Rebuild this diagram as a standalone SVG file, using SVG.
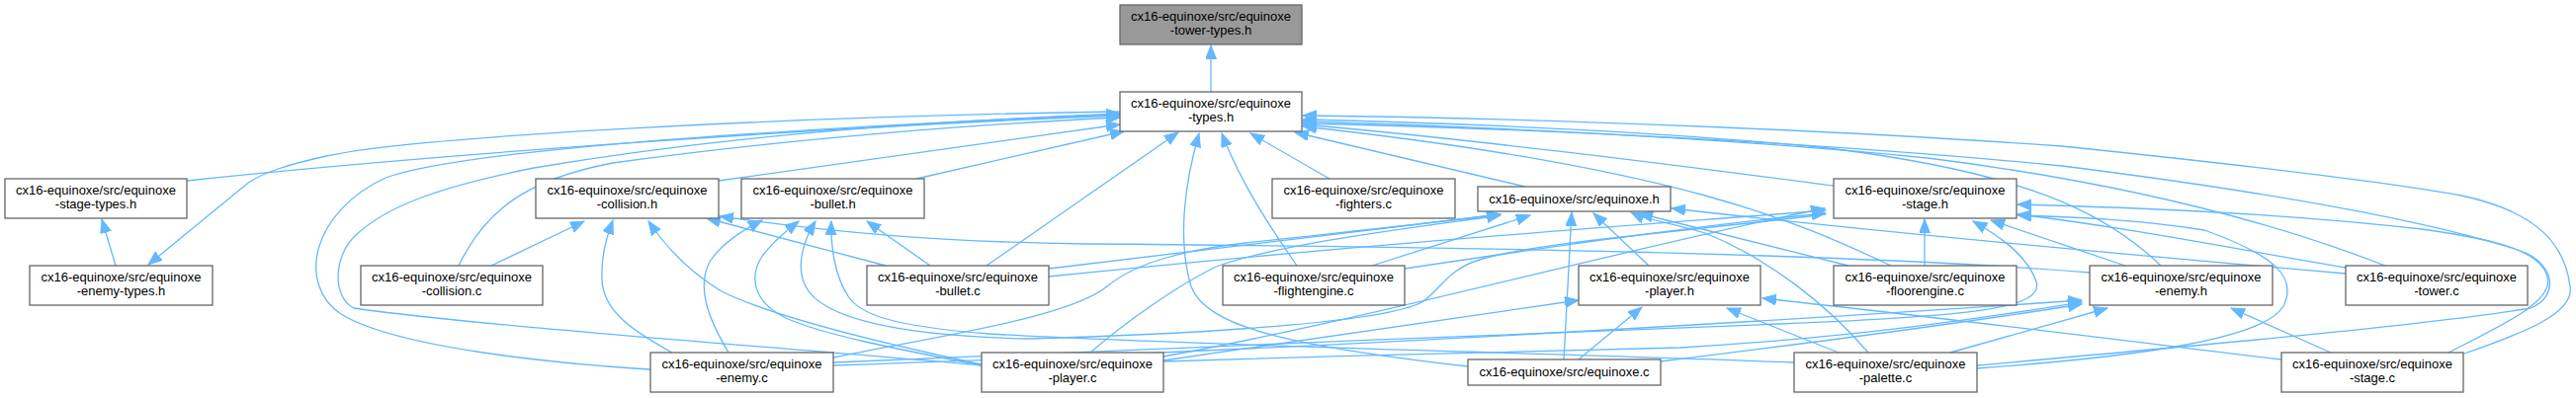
<svg xmlns="http://www.w3.org/2000/svg" width="2606" height="403" viewBox="0 0 2606 403">
<style>
.n rect{fill:#ffffff;stroke:#666666;stroke-width:1.3}
.n.g rect{fill:#999999}
.n text{font-family:"Liberation Sans",Arial,sans-serif;font-size:13px;fill:#000000;text-anchor:middle}
.e path{fill:none;stroke:#63b8ff;stroke-width:1.3;marker-end:url(#ah)}
</style>
<defs>
<marker id="ah" markerUnits="userSpaceOnUse" markerWidth="15" markerHeight="12" refX="14" refY="5.5" orient="auto">
<path d="M0,0 L14,5.5 L0,11 z" fill="#63b8ff" stroke="#63b8ff" stroke-width="1"/>
</marker>
</defs>
<rect x="0" y="0" width="2606" height="403" fill="#ffffff"/>
<g class="e" id="connectors">
<path d="M1225,93 L1225,46"/>
<path d="M189,183 C450,155 850,128 1133,117"/>
<path d="M1133,113 C800,118 420,138 330,158 C290,167 265,175 250,186 L150,268"/>
<path d="M117,269 L103,222"/>
<path d="M727,183 C850,165 990,145 1133,126"/>
<path d="M927,181 L1137,133"/>
<path d="M464,269 C490,215 530,182 620,165 C800,140 1000,125 1133,119"/>
<path d="M658,374 C560,368 400,352 345,318 C300,288 315,215 390,180 C460,155 700,135 1133,115"/>
<path d="M993,370 C800,352 500,332 358,312 C335,300 338,258 360,238 C390,210 440,190 540,170 C750,135 950,122 1133,116"/>
<path d="M998,269 L1192,134"/>
<path d="M1485,371 C1300,350 1220,330 1205,290 C1190,240 1200,180 1213,135"/>
<path d="M1312,269 C1285,230 1255,185 1236,135"/>
<path d="M1345,181 L1265,135"/>
<path d="M1543,189 L1310,134"/>
<path d="M1855,188 C1700,168 1500,142 1318,126"/>
<path d="M1913,269 C1820,225 1700,170 1318,128"/>
<path d="M2186,269 C2130,215 2050,175 1850,150 C1700,135 1500,125 1318,121"/>
<path d="M2413,269 C2300,225 2150,185 1950,160 C1750,140 1500,128 1318,123"/>
<path d="M2493,358 C2550,338 2605,318 2600,290 C2595,250 2570,215 2490,198 C2400,182 2250,165 2086,148 C1900,135 1600,120 1318,117"/>
<path d="M2000,370 C2200,352 2450,330 2560,312 C2590,300 2585,265 2547,253 C2450,222 2300,195 2086,168 C1850,145 1550,130 1318,125"/>
<path d="M497,269 L591,224"/>
<path d="M680,357 C640,335 610,315 609,283 C608,260 613,242 620,223"/>
<path d="M993,369 C880,345 780,320 730,295 C700,277 675,252 656,224"/>
<path d="M896,269 L715,221"/>
<path d="M2114,276 C1900,258 1500,250 1100,247 C950,245 850,236 728,219"/>
<path d="M941,269 L877,224"/>
<path d="M737,357 C715,320 705,290 718,265 C730,246 752,233 771,223"/>
<path d="M993,370 C900,352 830,338 795,322 C760,305 758,278 772,258 C782,245 795,234 808,224"/>
<path d="M1847,217 C1700,235 1560,245 1500,262 C1465,272 1460,290 1440,305 C1400,330 1150,340 1040,343 C900,340 830,320 815,290 C805,270 812,245 825,224"/>
<path d="M1815,367 C1600,358 1200,350 1000,338 C900,330 870,318 858,300 C845,280 840,250 841,224"/>
<path d="M1061,272 L1518,217"/>
<path d="M1061,280 C1400,245 1700,225 1847,213"/>
<path d="M1388,269 L1548,218"/>
<path d="M1421,272 C1600,245 1750,225 1847,216"/>
<path d="M843,362 C950,340 1080,322 1120,290 C1150,265 1200,253 1260,246 C1350,236 1450,226 1518,217"/>
<path d="M1103,357 C1140,325 1190,290 1230,270 C1300,245 1450,228 1518,218"/>
<path d="M1582,364 L1590,215"/>
<path d="M1668,269 L1612,216"/>
<path d="M1890,357 C1850,310 1790,262 1725,236 C1690,226 1665,222 1650,215"/>
<path d="M1870,269 L1658,216"/>
<path d="M2373,277 C2200,262 1900,235 1691,211"/>
<path d="M1947,269 L1947,222"/>
<path d="M2150,269 L2014,223"/>
<path d="M2373,271 C2250,250 2150,230 2041,217"/>
<path d="M2477,357 C2530,330 2585,305 2577,280 C2570,255 2530,243 2450,232 C2300,215 2150,210 2041,207"/>
<path d="M2000,373 C2150,362 2290,345 2310,310 C2325,280 2300,258 2230,233 C2160,222 2100,220 2041,218"/>
<path d="M843,367 C1100,355 1500,340 1800,328 C2000,320 2068,312 2060,285 C2052,262 2030,243 1996,224"/>
<path d="M1177,361 C1400,320 1650,250 1846,211"/>
<path d="M1177,365 L1597,304"/>
<path d="M1177,366 C1350,360 1550,356 1700,352 C1900,340 2030,318 2106,306"/>
<path d="M843,370 C1300,355 1800,325 2106,304"/>
<path d="M1680,366 C1850,345 2000,325 2106,308"/>
<path d="M1597,364 L1661,311"/>
<path d="M1860,357 L1747,312"/>
<path d="M1973,357 L2132,312"/>
<path d="M2308,364 C2150,345 1950,320 1783,302"/>
<path d="M2358,357 L2257,312"/>
</g>
<g class="n g" id="tower-types-h"><rect x="1133" y="5" width="184" height="40"/><text x="1225" y="21">cx16-equinoxe/src/equinoxe</text><text x="1225" y="35">-tower-types.h</text></g>
<g class="n" id="types-h"><rect x="1133" y="93" width="184" height="40"/><text x="1225" y="109">cx16-equinoxe/src/equinoxe</text><text x="1225" y="123">-types.h</text></g>
<g class="n" id="stage-types-h"><rect x="5" y="181" width="184" height="40"/><text x="97" y="197">cx16-equinoxe/src/equinoxe</text><text x="97" y="211">-stage-types.h</text></g>
<g class="n" id="enemy-types-h"><rect x="30" y="269" width="185" height="40"/><text x="122.5" y="285">cx16-equinoxe/src/equinoxe</text><text x="122.5" y="299">-enemy-types.h</text></g>
<g class="n" id="collision-h"><rect x="542" y="181" width="185" height="40"/><text x="634.5" y="197">cx16-equinoxe/src/equinoxe</text><text x="634.5" y="211">-collision.h</text></g>
<g class="n" id="bullet-h"><rect x="750" y="181" width="185" height="40"/><text x="842.5" y="197">cx16-equinoxe/src/equinoxe</text><text x="842.5" y="211">-bullet.h</text></g>
<g class="n" id="fighters-c"><rect x="1287" y="181" width="185" height="40"/><text x="1379.5" y="197">cx16-equinoxe/src/equinoxe</text><text x="1379.5" y="211">-fighters.c</text></g>
<g class="n" id="equinoxe-h"><rect x="1495" y="189" width="195" height="25"/><text x="1592.5" y="205.5">cx16-equinoxe/src/equinoxe.h</text></g>
<g class="n" id="stage-h"><rect x="1855" y="181" width="185" height="40"/><text x="1947.5" y="197">cx16-equinoxe/src/equinoxe</text><text x="1947.5" y="211">-stage.h</text></g>
<g class="n" id="collision-c"><rect x="365" y="269" width="184" height="40"/><text x="457" y="285">cx16-equinoxe/src/equinoxe</text><text x="457" y="299">-collision.c</text></g>
<g class="n" id="bullet-c"><rect x="877" y="269" width="184" height="40"/><text x="969" y="285">cx16-equinoxe/src/equinoxe</text><text x="969" y="299">-bullet.c</text></g>
<g class="n" id="flightengine-c"><rect x="1237" y="269" width="184" height="40"/><text x="1329" y="285">cx16-equinoxe/src/equinoxe</text><text x="1329" y="299">-flightengine.c</text></g>
<g class="n" id="player-h"><rect x="1597" y="269" width="184" height="40"/><text x="1689" y="285">cx16-equinoxe/src/equinoxe</text><text x="1689" y="299">-player.h</text></g>
<g class="n" id="floorengine-c"><rect x="1855" y="269" width="185" height="40"/><text x="1947.5" y="285">cx16-equinoxe/src/equinoxe</text><text x="1947.5" y="299">-floorengine.c</text></g>
<g class="n" id="enemy-h"><rect x="2114" y="269" width="185" height="40"/><text x="2206.5" y="285">cx16-equinoxe/src/equinoxe</text><text x="2206.5" y="299">-enemy.h</text></g>
<g class="n" id="tower-c"><rect x="2373" y="269" width="184" height="40"/><text x="2465" y="285">cx16-equinoxe/src/equinoxe</text><text x="2465" y="299">-tower.c</text></g>
<g class="n" id="enemy-c"><rect x="658" y="357" width="185" height="40"/><text x="750.5" y="373">cx16-equinoxe/src/equinoxe</text><text x="750.5" y="387">-enemy.c</text></g>
<g class="n" id="player-c"><rect x="993" y="357" width="184" height="40"/><text x="1085" y="373">cx16-equinoxe/src/equinoxe</text><text x="1085" y="387">-player.c</text></g>
<g class="n" id="equinoxe-c"><rect x="1485" y="364" width="195" height="26"/><text x="1582.5" y="381">cx16-equinoxe/src/equinoxe.c</text></g>
<g class="n" id="palette-c"><rect x="1815" y="357" width="185" height="40"/><text x="1907.5" y="373">cx16-equinoxe/src/equinoxe</text><text x="1907.5" y="387">-palette.c</text></g>
<g class="n" id="stage-c"><rect x="2308" y="357" width="184" height="40"/><text x="2400" y="373">cx16-equinoxe/src/equinoxe</text><text x="2400" y="387">-stage.c</text></g>
</svg>
